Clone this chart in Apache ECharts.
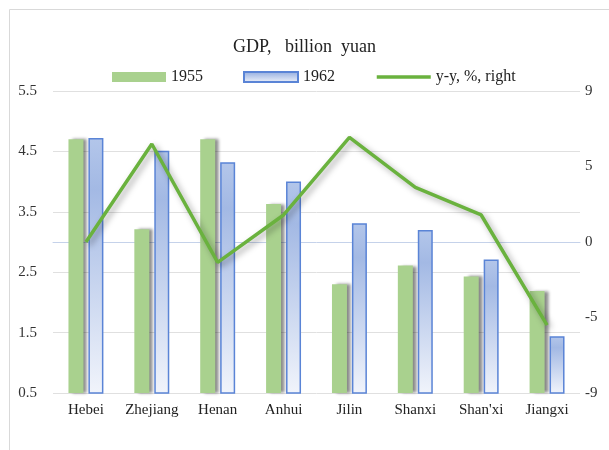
<!DOCTYPE html>
<html>
<head>
    <meta charset="utf-8">
    <title>GDP</title>
    <style>
        html, body { margin: 0; padding: 0; background: #fff; }
        #chart1 { width: 609px; height: 450px; }
    </style>
</head>
<body>
    <div id="chart1"></div>
    <script src="https://cdn.jsdelivr.net/npm/echarts@6/dist/echarts.min.js"></script>
    <script>
        // 数据
        var provinces = ['Hebei', 'Zhejiang', 'Henan', 'Anhui', 'Jilin', 'Shanxi', "Shan'xi", 'Jiangxi'];
        var gdp1955 = [4.70, 3.21, 4.70, 3.63, 2.30, 2.61, 2.43, 2.19];
        var gdp1962 = [4.72, 4.51, 4.32, 4.00, 3.31, 3.20, 2.71, 1.44];
        var yoy = [0.0, 5.84, -1.21, 1.61, 6.24, 3.26, 1.61, -4.95];

        var serif = '"Liberation Serif", "Times New Roman", serif';
        var myChart1 = echarts.init(document.getElementById('chart1'));

        myChart1.setOption({
            animation: false,
            title: {
                text: 'GDP,   billion  yuan',
                left: 'center',
                top: 33,
                textStyle: { fontFamily: serif, fontSize: 18, fontWeight: 'normal', color: '#222' }
            },
            legend: {
                top: 64,
                left: 107,
                itemWidth: 54,
                itemHeight: 10,
                itemGap: 40,
                textStyle: { fontFamily: serif, fontSize: 16, color: '#222' },
                data: [
                    { name: '1955', icon: 'rect' },
                    { name: '1962', icon: 'rect' },
                    { name: 'y-y, %, right', itemStyle: { opacity: 0 }, lineStyle: { width: 3.5 } }
                ]
            },
            graphic: [{
                type: 'rect',
                shape: { x: 9.5, y: 9.5, width: 700, height: 600 },
                style: { fill: 'none', stroke: '#d9d9d9', lineWidth: 1 },
                silent: true
            }],
            grid: { left: 53, right: 29, top: 91, bottom: 57 },
            xAxis: {
                type: 'category',
                data: provinces,
                axisLine: { lineStyle: { color: '#c5d2ea' } },
                axisTick: { lineStyle: { color: '#c5d2ea' }, length: 5 },
                axisLabel: { fontFamily: serif, fontSize: 15, color: '#222', margin: 10, interval: 0 }
            },
            yAxis: [{
                type: 'value',
                min: 0.5,
                max: 5.5,
                interval: 1,
                axisLine: { show: false },
                axisTick: { show: false },
                axisLabel: { fontFamily: serif, fontSize: 15, color: '#333', margin: 16,
                    formatter: function (v) { return v.toFixed(1); } },
                splitLine: { lineStyle: { color: '#e0e0e0' } }
            }, {
                type: 'value',
                min: -9,
                max: 9,
                interval: 4.5,
                axisLine: { show: false },
                axisTick: { show: false },
                splitLine: { show: false },
                axisLabel: { fontFamily: serif, fontSize: 15, color: '#333', margin: 5,
                    formatter: function (v) { return (v < 0 ? '-' : '') + Math.round(Math.abs(v)); } }
            }],
            series: [{
                name: '1955',
                type: 'bar',
                data: gdp1955,
                barWidth: 15,
                barGap: '33%',
                itemStyle: {
                    color: '#a9d18e',
                    shadowColor: 'rgba(0,0,0,0.45)',
                    shadowBlur: 3,
                    shadowOffsetX: 4,
                    shadowOffsetY: 0
                }
            }, {
                name: '1962',
                type: 'bar',
                data: gdp1962,
                barWidth: 15,
                itemStyle: {
                    color: new echarts.graphic.LinearGradient(0, 0, 0, 1, [
                        { offset: 0, color: '#b3c6ea' },
                        { offset: 0.2, color: '#a3b9e4' },
                        { offset: 1, color: '#f1f4fb' }
                    ]),
                    borderColor: '#5a84d6',
                    borderWidth: 1.5
                }
            }, {
                name: 'y-y, %, right',
                type: 'line',
                yAxisIndex: 1,
                data: yoy,
                symbol: 'none',
                z: 5,
                lineStyle: {
                    color: '#6ab23e',
                    width: 3.5,
                    shadowColor: 'rgba(0,0,0,0.35)',
                    shadowBlur: 6,
                    shadowOffsetX: 3,
                    shadowOffsetY: 3
                },
                itemStyle: { color: '#6ab23e' }
            }]
        });
    </script>
</body>
</html>
